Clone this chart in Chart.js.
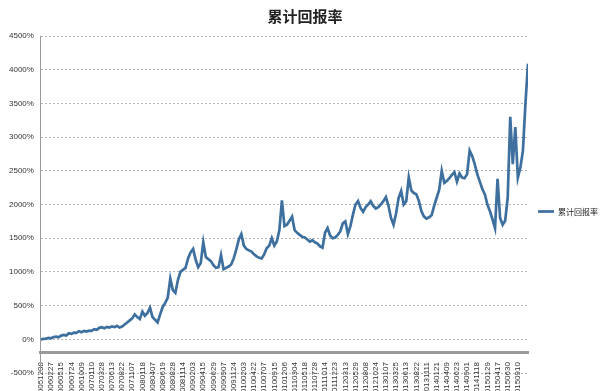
<!DOCTYPE html>
<html>
<head>
<meta charset="utf-8">
<script src="https://cdn.jsdelivr.net/npm/chart.js@4"></script>
<style>
  body { margin: 0; background: #fff; }
  #wrap { width: 600px; height: 391px; }
</style>
</head>
<body>
<div id="wrap"><canvas id="retChart"></canvas></div>
<script>
// tick labels on the x axis (one every ~50 trading days)
const dateLabels = [
  "20051208", "20060227", "20060515", "20060724", "20061009", "20070110",
  "20070328", "20070613", "20070822", "20071107", "20080118", "20080407",
  "20080619", "20080828", "20081114", "20090203", "20090415", "20090629",
  "20090907", "20091124", "20100203", "20100422", "20100707", "20100915",
  "20101206", "20110304", "20110518", "20110728", "20111014", "20111223",
  "20120313", "20120529", "20120808", "20121024", "20130107", "20130325",
  "20130613", "20130822", "20131111", "20140121", "20140409", "20140623",
  "20140901", "20141118", "20150129", "20150417", "20150630", "20150910"
];

// samples per label interval
const perTick = 4;

// cumulative return in %
const cumReturn = [
  0, 5, 10, 20, 15, 35, 40, 30, 55, 65, 55, 90, 80, 100, 95, 120,
  105, 125, 115, 130, 125, 150, 140, 170, 180, 165, 185, 175, 190, 180, 200, 175,
  190, 220, 250, 280, 310, 370, 330, 300, 410, 350, 390, 470, 330, 290, 250, 370,
  480, 540, 620, 900, 730, 690, 880, 1000, 1030, 1060, 1200, 1290, 1340, 1180, 1070, 1130,
  1440, 1220, 1190, 1160, 1100, 1060, 1070, 1250, 1040, 1060, 1080, 1110, 1200, 1330, 1480, 1560,
  1390, 1340, 1320, 1300, 1260, 1230, 1210, 1200, 1260, 1350, 1390, 1500, 1390, 1450, 1620, 2060,
  1680, 1700, 1760, 1820, 1620, 1580, 1550, 1520, 1510, 1480, 1450, 1470, 1440, 1420, 1380, 1360,
  1580, 1650, 1540, 1500, 1510, 1550, 1600, 1720, 1750, 1560, 1680, 1850, 2000, 2050, 1950, 1890,
  1960, 2000, 2050, 1980, 1940, 1960, 2000, 2050, 2110, 1980, 1800, 1700, 1870, 2100, 2200, 2000,
  2050, 2400, 2210, 2170, 2150, 2050, 1900, 1820, 1790, 1810, 1840, 1980, 2100, 2220, 2500, 2320,
  2350, 2390, 2440, 2480, 2340, 2460, 2400, 2390, 2450, 2800, 2720, 2600, 2450, 2340, 2230, 2150,
  2000, 1900, 1780, 1650, 2380, 1800, 1700, 1760, 2100, 3300, 2600, 3150, 2400, 2550, 2800, 3500,
  4090
];

const seriesName = "累计回报率";

Chart.defaults.font.family = '"Liberation Sans", "Noto Sans CJK SC", sans-serif';
Chart.defaults.color = "#333";

new Chart(document.getElementById("retChart"), {
  type: "line",
  data: {
    datasets: [
      {
        label: seriesName,
        data: cumReturn.map((v, i) => ({ x: i / perTick, y: v })),
        borderColor: "#3d6f9f",
        backgroundColor: "#3d6f9f",
        borderWidth: 2.7,
        pointRadius: 0,
        tension: 0,
        fill: false,
      },
    ],
  },
  options: {
    responsive: true,
    maintainAspectRatio: false,
    animation: false,
    layout: { padding: { left: 2, right: -8, top: 0, bottom: 18 } },
    plugins: {
      title: {
        display: true,
        text: seriesName,
        color: "#222",
        font: { size: 15, weight: "bold", family: '"Noto Sans CJK SC", sans-serif' },
        padding: { top: 7, bottom: 11 },
      },
      legend: {
        position: "right",
        // empty title just pushes the single entry down a bit
        title: { display: true, text: " ", font: { size: 10 }, padding: { top: 38, bottom: 0 } },
        labels: {
          usePointStyle: true,
          pointStyle: "line",
          pointStyleWidth: 16,
          padding: 10,
          color: "#222",
          font: { size: 8, family: '"Noto Sans CJK SC", sans-serif' },
        },
      },
      tooltip: { enabled: false },
    },
    scales: {
      x: {
        type: "linear",
        min: 0,
        max: dateLabels.length,
        position: { y: -190 },
        grid: { display: false },
        border: { display: true, color: "#9a9a9a", width: 3 },
        ticks: {
          stepSize: 1,
          autoSkip: false,
          minRotation: 90,
          maxRotation: 90,
          padding: 2,
          font: { size: 8 },
          color: "#333",
          callback: (v) => dateLabels[v] ?? "",
        },
      },
      y: {
        min: -500,
        max: 4500,
        grid: { color: "#b4b4b4", drawTicks: false },
        border: { display: true, color: "#9a9a9a", width: 1, dash: [2, 2] },
        ticks: {
          stepSize: 500,
          padding: 7,
          font: { size: 8 },
          color: "#333",
          callback: (v) => v + "%",
        },
      },
    },
  },
});
</script>
</body>
</html>
